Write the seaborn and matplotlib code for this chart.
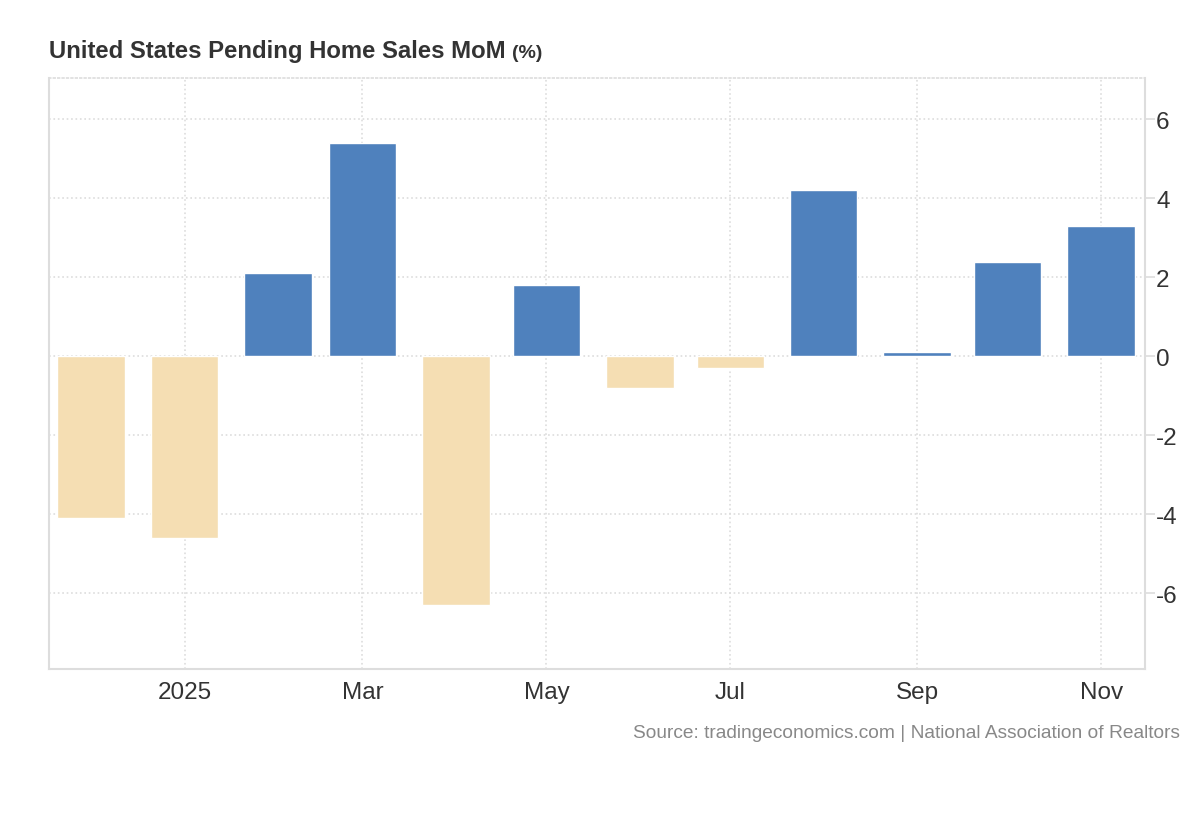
import matplotlib.pyplot as plt
import matplotlib.dates as mdates
import numpy as np
import pandas as pd
import seaborn as sns


months = ['2024-12-01', '2025-01-01', '2025-02-01', '2025-03-01', '2025-04-01', '2025-05-01',
          '2025-06-01', '2025-07-01', '2025-08-01', '2025-09-01', '2025-10-01', '2025-11-01']
mom_change = [-4.1, -4.6, 2.1, 5.4, -6.3, 1.8, -0.8, -0.3, 4.2, 0.1, 2.4, 3.3]

tick_dates = ['2025-01-01', '2025-03-01', '2025-05-01', '2025-07-01', '2025-09-01', '2025-11-01']
tick_labels = ['2025', 'Mar', 'May', 'Jul', 'Sep', 'Nov']
y_ticks = [-6, -4, -2, 0, 2, 4, 6]

BLUE = '#4F81BD'
BEIGE = '#F5DEB3'
GRID = '#dddddd'
TEXT = '#333333'

sns.set_theme(style='white')
plt.rcParams['font.family'] = ['Liberation Sans', 'DejaVu Sans']
plt.rcParams['axes.unicode_minus'] = False

df = pd.DataFrame({
    'date': mdates.date2num(pd.to_datetime(months)),
    'value': mom_change,
})
df['sign'] = np.where(df['value'] >= 0, 'up', 'down')

fig = plt.figure(figsize=(12, 8.2), dpi=100)
ax = fig.add_axes([0.0408, 0.183, 0.9134, 0.7207])

sns.barplot(
    data=df, x='date', y='value', hue='sign',
    palette={'up': BLUE, 'down': BEIGE},
    native_scale=True, dodge=False, legend=False,
    width=0.8, saturation=1, ax=ax, zorder=3,
)

ax.set_xlim(mdates.date2num(pd.Timestamp('2024-11-17')),
            mdates.date2num(pd.Timestamp('2025-11-15 14:00')))
ax.set_ylim(-7.92, 7.05)

ax.set_xticks(mdates.date2num(pd.to_datetime(tick_dates)))
ax.set_xticklabels(tick_labels)
ax.set_yticks(y_ticks)
ax.set_yticklabels([str(v) for v in y_ticks])
ax.yaxis.tick_right()

ax.grid(True, linestyle=':', color=GRID, linewidth=1.2, zorder=0)
ax.set_axisbelow(True)

for side in ['left', 'bottom', 'right']:
    ax.spines[side].set_color(GRID)
    ax.spines[side].set_linewidth(1.5)
ax.spines['top'].set_color(GRID)
ax.spines['top'].set_linestyle(':')
ax.spines['top'].set_linewidth(1.2)

ax.tick_params(axis='x', length=0, pad=9, labelsize=17.5, labelcolor=TEXT)
ax.tick_params(axis='y', length=7, width=1.2, color=GRID, pad=1,
               labelsize=17.5, labelcolor=TEXT)
ax.set_xlabel('')
ax.set_ylabel('')

title = fig.text(0.0408, 0.929, 'United States Pending Home Sales MoM', fontsize=17.2,
                 fontweight='bold', color=TEXT, ha='left', va='baseline')
fig.canvas.draw()
bbox = title.get_window_extent().transformed(fig.transFigure.inverted())
fig.text(bbox.x1 + 0.005, 0.929, '(%)', fontsize=14, fontweight='bold', color=TEXT,
         ha='left', va='baseline')
fig.text(0.983, 0.095, 'Source: tradingeconomics.com | National Association of Realtors',
         fontsize=13.8, color='#888888', ha='right', va='bottom')

fig.savefig('out.png', dpi=100)
